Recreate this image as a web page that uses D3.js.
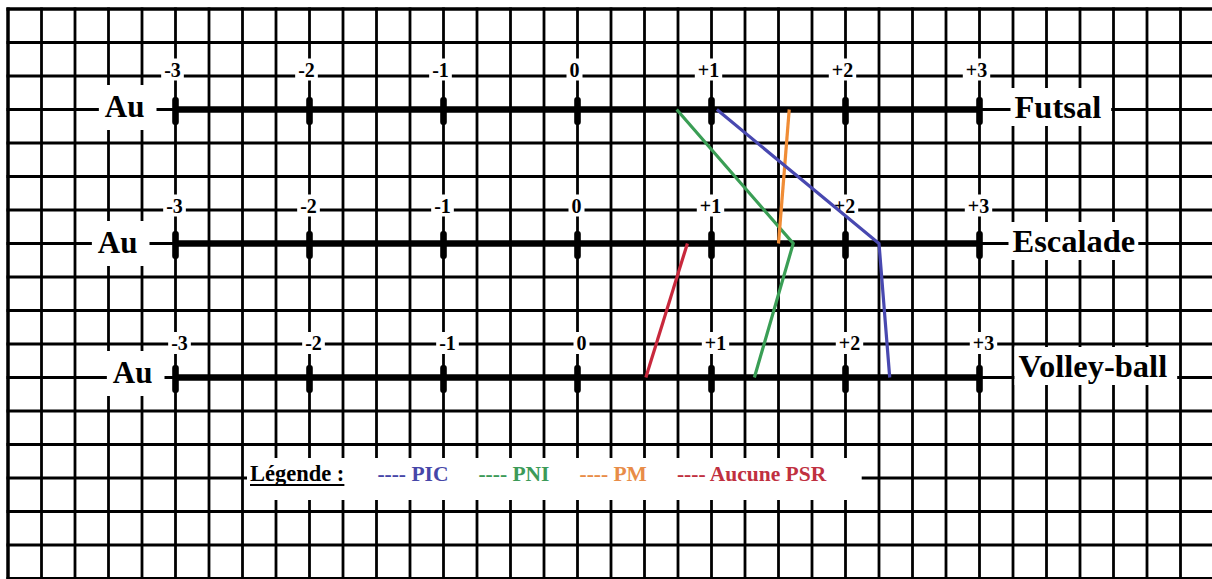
<!DOCTYPE html>
<html>
<head>
<meta charset="utf-8">
<script src="https://cdn.jsdelivr.net/npm/d3@7"></script>
<style>
  html, body { margin: 0; padding: 0; background: #fff; }
  svg { display: block; }
  text { font-family: "Liberation Serif", "Times New Roman", serif; font-weight: bold; }
</style>
</head>
<body>
<svg id="chart" width="1212" height="579"></svg>
<script>
// ---------------- DATA ----------------
const sports = ["Futsal", "Escalade", "Volley-ball"];
const leftLabel = "Au";
const tickValues = [-3, -2, -1, 0, 1, 2, 3];
const tickLabels = ["-3", "-2", "-1", "0", "+1", "+2", "+3"];
const seriesNames = ["PIC", "PNI", "PM", "Aucune PSR"];
// values per sport (Futsal, Escalade, Volley-ball); null = no point
const picValues = [1.04, 2.25, 2.33];
const pniValues = [0.74, 1.61, 1.32];
const pmValues = [1.58, 1.50, null];
const aucuneValues = [null, 0.82, 0.51];
const legendTitle = "Légende :";

// ---------------- STYLE / LAYOUT ----------------
const seriesColors = ["#4848b0", "#3a9e55", "#f08c35", "#c8283c"];
const legendColors = ["#4646a8", "#3c9a58", "#e88c48", "#c03040"];
const W = 1212, H = 579;
const svg = d3.select("#chart");

const x = d3.scaleLinear().domain([-3, 3]).range([175.5, 979.5]);
const y = d3.scaleLinear().domain([0, 2]).range([109.5, 377.5]);

const gridX = d3.range(0, 37).map(k => -4.25 + k * 0.25);
const gridY = d3.range(0, 18).map(k => -0.75 + k * 0.25);

// per-row layout tweaks
const tickLabelDy = [-33, -31, -27.5];
const tickLabelDx = [-3, -1, 4];
const auDx = [-31, -38, -23];
const auDy = [7.5, 9.5, 5.5];
const sideDx = [35, 33, 39];
const sideDy = [8.5, 8.5, -0.5];

svg.append("rect").attr("width", W).attr("height", H).attr("fill", "#fff");

// grid
const grid = svg.append("g");
grid.selectAll("line.v").data(gridX).join("line")
  .attr("x1", d => x(d)).attr("x2", d => x(d))
  .attr("y1", y(-0.75) - 1.5).attr("y2", H)
  .attr("stroke", "#000")
  .attr("stroke-width", (d, i) => i === 0 ? 3.5 : 2.8);
grid.selectAll("line.h").data(gridY).join("line")
  .attr("x1", x(-4.25) - 1.5).attr("x2", W)
  .attr("y1", d => y(d)).attr("y2", d => y(d))
  .attr("stroke", "#000")
  .attr("stroke-width", (d, i) => i === 0 ? 3.5 : 2.8);

// layers
const boxLayer = svg.append("g");
const axisLayer = svg.append("g");
const textLayer = svg.append("g");
const lineLayer = svg.append("g");
const legendLayer = svg.append("g");

function whiteBox(textSel, padL, padR, padT, padB) {
  textSel.each(function () {
    const b = this.getBBox();
    boxLayer.append("rect")
      .attr("x", b.x - padL).attr("y", b.y - padT)
      .attr("width", b.width + padL + padR).attr("height", b.height + padT + padB)
      .attr("fill", "#fff");
  });
}

sports.forEach((sport, i) => {
  const yy = y(i);
  // axis line
  axisLayer.append("line")
    .attr("x1", x(-3)).attr("x2", x(3))
    .attr("y1", yy).attr("y2", yy)
    .attr("stroke", "#000").attr("stroke-width", 6.5);
  // ticks
  axisLayer.selectAll(null).data(tickValues).join("rect")
    .attr("x", d => x(d) - 3.3).attr("y", yy - 12.5)
    .attr("width", 6.6).attr("height", 28).attr("rx", 3)
    .attr("fill", "#000");
  // tick labels
  const tl = textLayer.selectAll(null).data(tickValues).join("text")
    .attr("x", d => x(d) + tickLabelDx[i]).attr("y", yy + tickLabelDy[i])
    .attr("text-anchor", "middle").attr("font-size", 20)
    .attr("fill", "#000")
    .text((d, j) => tickLabels[j]);
  whiteBox(tl, 3, 3, 0, 0);
  // left label
  const au = textLayer.append("text")
    .attr("x", x(-3) + auDx[i]).attr("y", yy + auDy[i])
    .attr("text-anchor", "end").attr("font-size", 31).attr("fill", "#000")
    .text(leftLabel);
  whiteBox(au, 6, 12, 4, 6);
  // right label
  const side = textLayer.append("text")
    .attr("x", x(3) + sideDx[i]).attr("y", yy + sideDy[i])
    .attr("font-size", 32.5).attr("fill", "#000")
    .text(sport);
  whiteBox(side, 4, i === 1 ? 3 : 10, 1, 1);
});

// data lines
const series = [picValues, pniValues, pmValues, aucuneValues];
const lineGen = d3.line()
  .defined(d => d.v !== null)
  .x(d => x(d.v)).y(d => y(d.i));
const drawOrder = [1, 2, 0, 3];
drawOrder.forEach(s => {
  const pts = series[s].map((v, i) => ({ v, i }));
  lineLayer.append("path")
    .attr("d", lineGen(pts))
    .attr("fill", "none")
    .attr("stroke", seriesColors[s])
    .attr("stroke-width", 3.2)
    .attr("stroke-linejoin", "miter");
});

// legend
const legendBaseline = 481;
const legendBox = legendLayer.append("rect").attr("fill", "#fff");
let lx = 250;
const title = legendLayer.append("text")
  .attr("x", lx).attr("y", legendBaseline)
  .attr("font-size", 22.5).attr("fill", "#000")
  .text(legendTitle);
const tb = title.node().getBBox();
legendLayer.append("line")
  .attr("x1", tb.x).attr("x2", tb.x + tb.width)
  .attr("y1", legendBaseline + 4).attr("y2", legendBaseline + 4)
  .attr("stroke", "#000").attr("stroke-width", 2);
lx = tb.x + tb.width + 33;
seriesNames.forEach((name, s) => {
  const t = legendLayer.append("text")
    .attr("x", lx).attr("y", legendBaseline)
    .attr("font-size", 21.5).attr("fill", legendColors[s])
    .text("---- " + name);
  const b = t.node().getBBox();
  lx = b.x + b.width + 30;
});
legendBox.attr("x", 247).attr("y", 458)
  .attr("width", lx + 5 - 247).attr("height", 42);
</script>
</body>
</html>
